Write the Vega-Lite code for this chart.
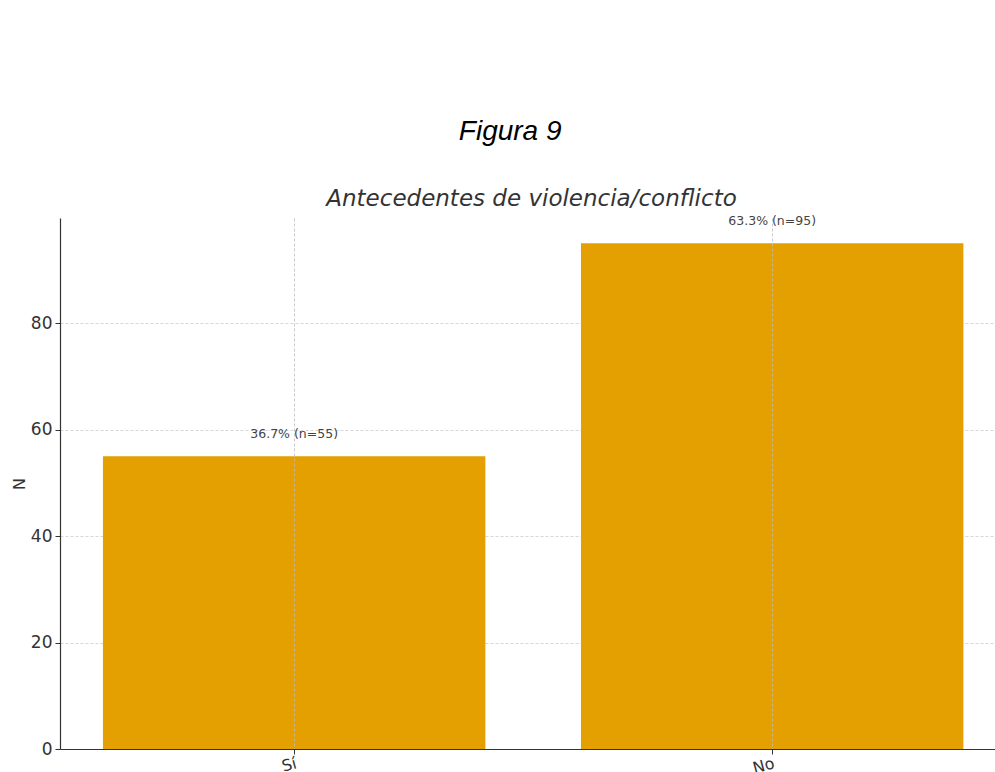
{
  "$schema": "https://vega.github.io/schema/vega-lite/v6.json",
  "padding": {"left": 11, "top": 118, "right": 0, "bottom": 0},
  "background": "white",
  "title": {"text": "Figura 9", "font": "Liberation Sans", "fontStyle": "italic", "fontWeight": "normal", "fontSize": 28, "color": "#000000", "anchor": "middle", "offset": 42, "dx": 7},
  "config": {"view": {"stroke": null}, "font": "DejaVu Sans"},
  "vconcat": [
    {
      "width": 935,
      "height": 531,
      "title": {"text": "Antecedentes de violencia/conflicto", "font": "DejaVu Sans", "fontStyle": "italic", "fontWeight": "normal", "fontSize": 23, "color": "#333333", "offset": 4, "anchor": "middle", "dx": 4},
      "data": {"values": [
        {"respuesta": "Sí", "n": 55, "label": "36.7% (n=55)"},
        {"respuesta": "No", "n": 95, "label": "63.3% (n=95)"}
      ]},
      "encoding": {
        "x": {
          "field": "respuesta", "type": "nominal", "sort": ["Sí", "No"],
          "scale": {"paddingInner": 0.2, "paddingOuter": 0.078, "align": 0.576},
          "axis": {
            "title": null, "labelAngle": -15, "labelAlign": "right", "labelBaseline": "top",
            "labelFontSize": 16, "labelColor": "#333333", "labelFont": "DejaVu Sans", "labelPadding": 1,
            "tickSize": 5, "tickColor": "#333333", "domainColor": "#333333", "domainWidth": 1.2,
            "grid": true, "gridColor": "#bbbbbb", "gridDash": [3, 2], "gridWidth": 0.8,
            "bandPosition": 0.5, "zindex": 1, "maxExtent": 23, "minExtent": 23
          }
        },
        "y": {
          "field": "n", "type": "quantitative",
          "scale": {"domain": [0, 99.75], "nice": false, "zero": true},
          "axis": {
            "title": "N", "titleFontSize": 16, "titleFontWeight": "normal", "titleColor": "#333333", "titleFont": "DejaVu Sans", "titlePadding": 3,
            "values": [0, 20, 40, 60, 80], "labelFontSize": 17, "labelColor": "#333333", "labelFont": "DejaVu Sans", "labelPadding": 3,
            "tickSize": 5, "tickColor": "#333333", "domainColor": "#333333", "domainWidth": 1.2,
            "grid": true, "gridColor": "#cccccc", "gridDash": [3, 2], "gridWidth": 0.8, "zindex": 0
          }
        }
      },
      "layer": [
        {"mark": {"type": "bar", "color": "#E3A000"}},
        {"mark": {"type": "text", "baseline": "middle", "dy": -22, "fontSize": 12.5, "color": "#444444", "font": "DejaVu Sans"},
         "encoding": {"text": {"field": "label"}}}
      ]
    }
  ]
}
